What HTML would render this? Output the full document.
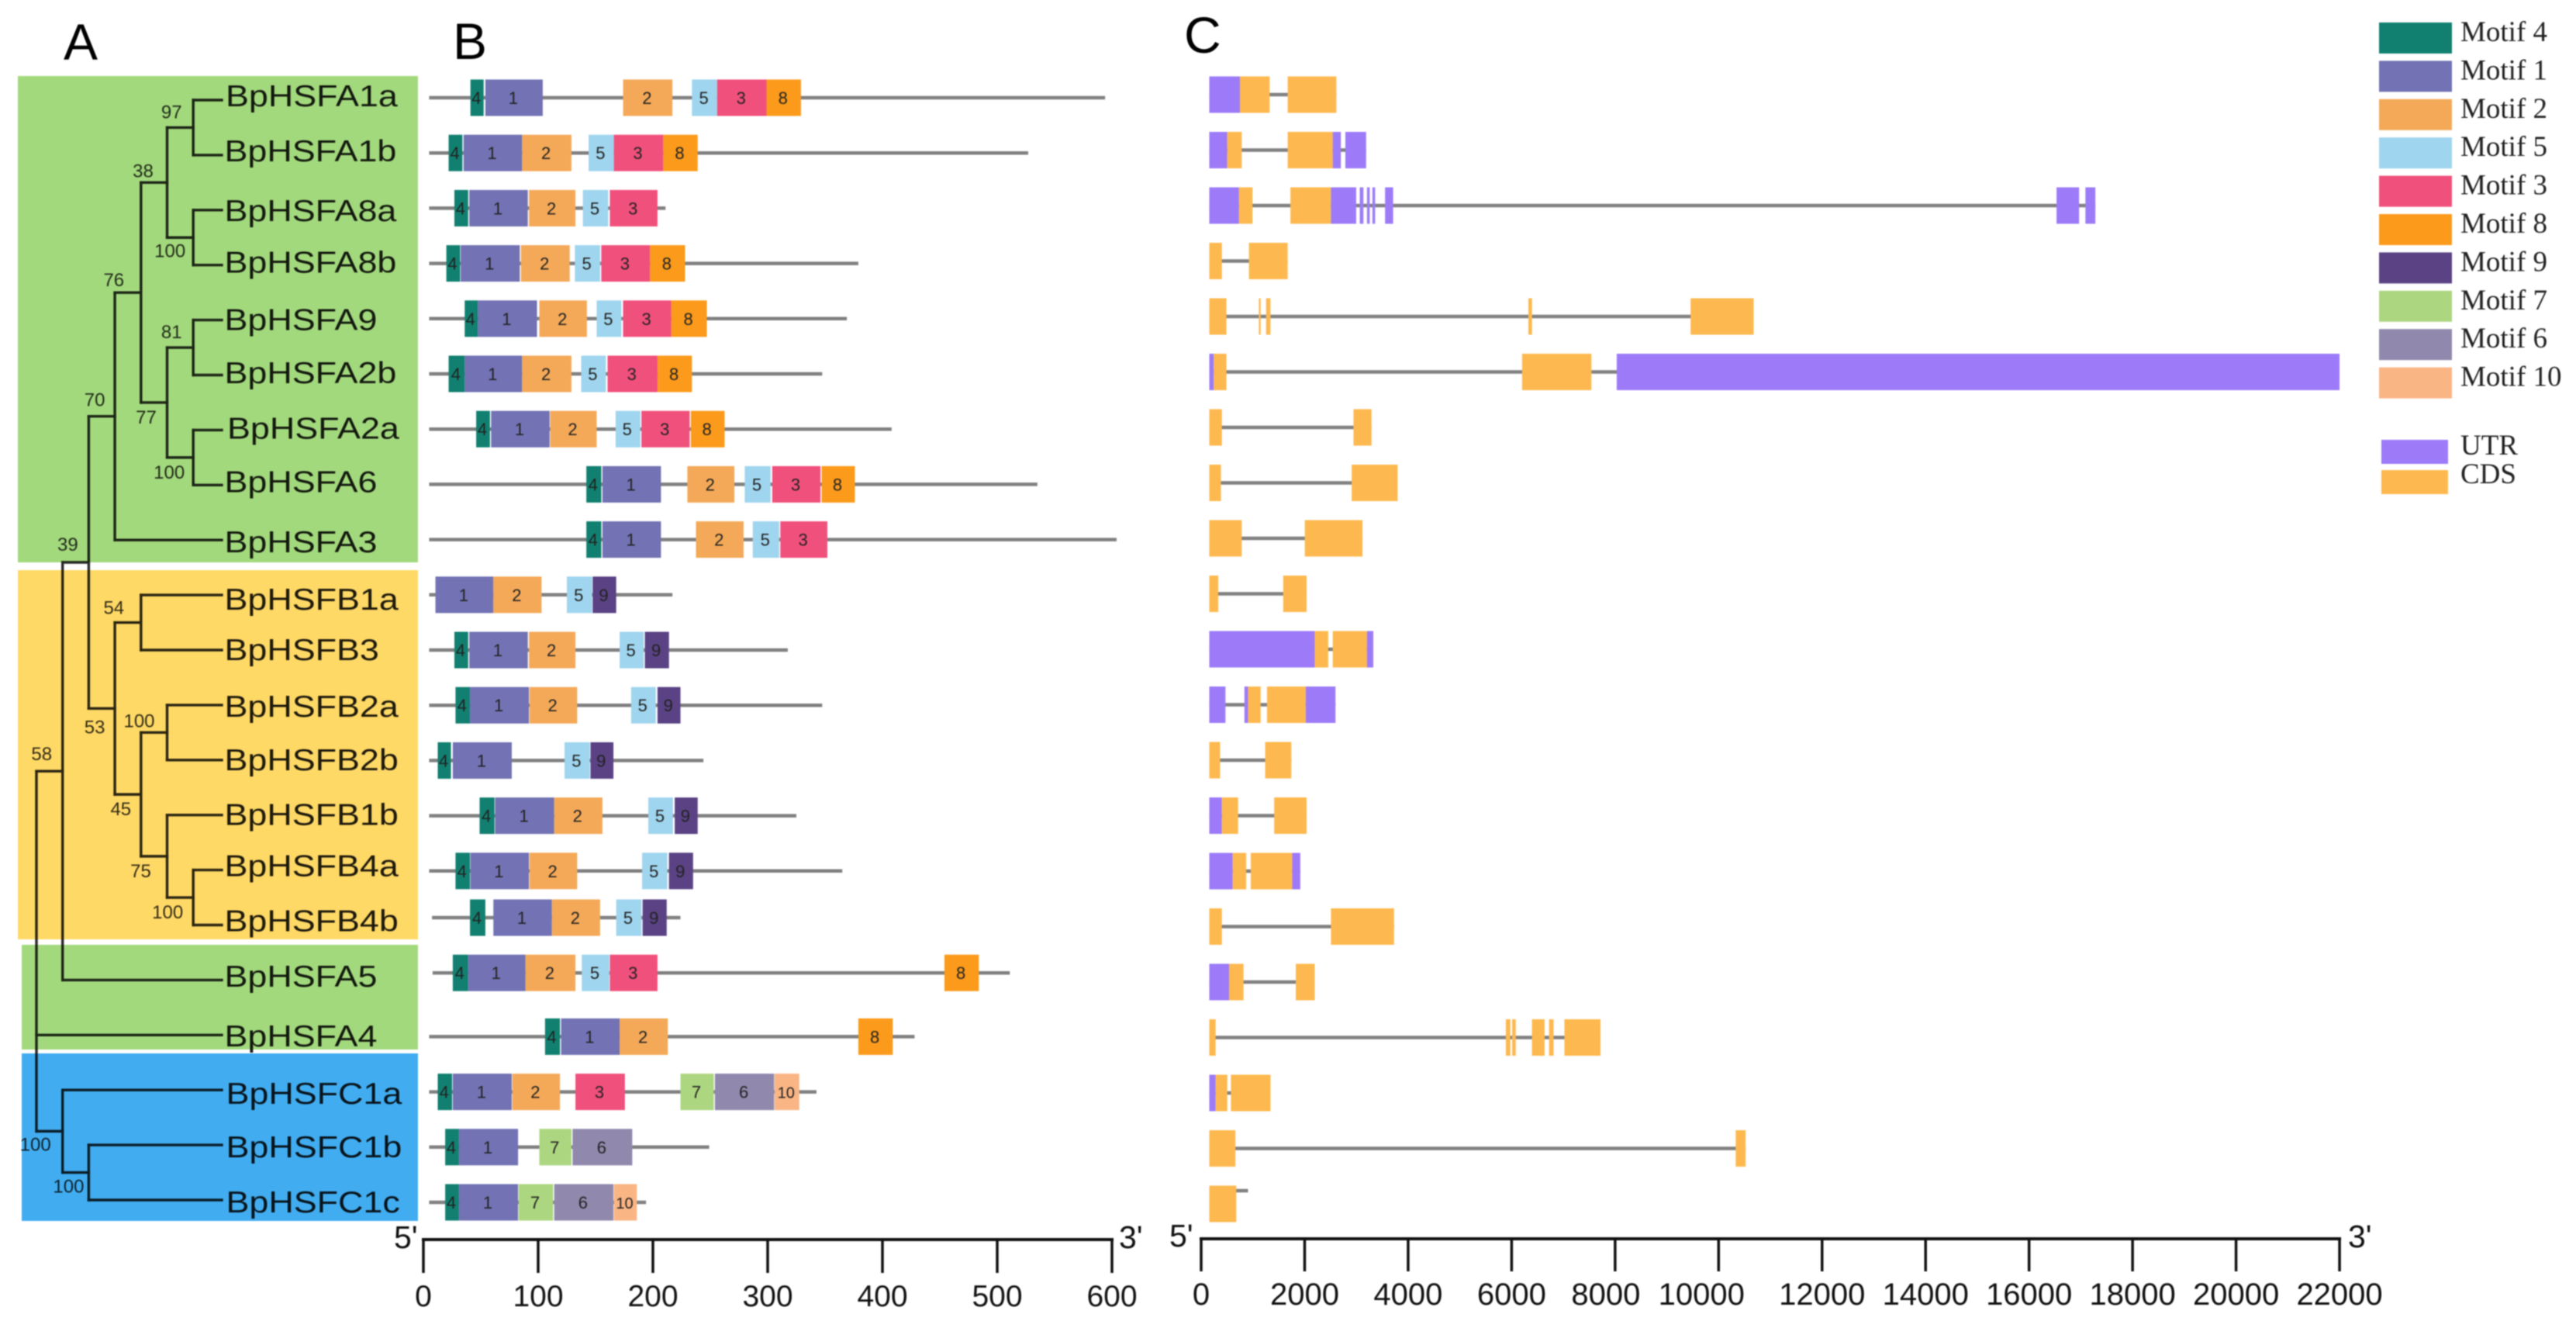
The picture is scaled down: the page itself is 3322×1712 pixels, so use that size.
<!DOCTYPE html>
<html lang="en">
<head>
<meta charset="utf-8">
<title>BpHSF phylogeny, motifs and gene structure</title>
<style>
html,body{margin:0;padding:0;background:#fff;}
svg{display:block;}
#figure{filter:blur(0.7px);}
.sans{font-family:"Liberation Sans",Arial,sans-serif;}
.serif{font-family:"Liberation Serif","Times New Roman",serif;}
</style>
</head>
<body>
<svg id="chart" xmlns="http://www.w3.org/2000/svg" width="3322" height="1712" viewBox="0 0 3322 1712">
  <rect x="0" y="0" width="3322" height="1712" fill="#ffffff"/>
  <g id="figure">
    <rect x="23" y="98" width="516" height="627" fill="#a3d97d"/>
    <rect x="23" y="735" width="516" height="476" fill="#ffd966"/>
    <rect x="28" y="1218" width="511" height="135" fill="#a3d97d"/>
    <rect x="28" y="1358" width="511" height="216" fill="#41adf0"/>
    <text x="82" y="77" font-size="66" class="sans" fill="#000">A</text>
    <text x="584" y="76" font-size="66" class="sans" fill="#000">B</text>
    <text x="1527" y="68" font-size="66" class="sans" fill="#000">C</text>
    <g id="tree" style="mix-blend-mode:multiply"></g>
    <g id="tipLabels" style="mix-blend-mode:multiply"></g>
    <g id="motifPanel"></g>
    <g id="genePanel"></g>
    <g id="axes"></g>
    <g id="legend"></g>
  </g>
</svg>
<script>
/* ---------- categories ---------- */
const genes = ['BpHSFA1a','BpHSFA1b','BpHSFA8a','BpHSFA8b','BpHSFA9','BpHSFA2b','BpHSFA2a','BpHSFA6','BpHSFA3','BpHSFB1a','BpHSFB3','BpHSFB2a','BpHSFB2b','BpHSFB1b','BpHSFB4a','BpHSFB4b','BpHSFA5','BpHSFA4','BpHSFC1a','BpHSFC1b','BpHSFC1c'];

/* ---------- tree: nested gene indexes ---------- */
const treeTopology = [[[[[[[0,1],[2,3]],[[4,5],[6,7]]],8],[[9,10],[[11,12],[13,[14,15]]]]],16],17,[18,[19,20]]];
/* bootstrap values, listed in post-order traversal of internal nodes (root has none) */
const supportValues = [97,100,38,81,100,77,76,70,54,100,100,75,45,53,39,58,100,100];

/* ---------- panel B: protein lengths (aa) and motifs [motif, from, to] ---------- */
const proteinSpans = [[5,594],[5,527],[5,211],[5,379],[5,369],[5,347.5],[5,408],[5,535],[5,604],[5,217],[5,317.5],[5,347.5],[5,244],[5,325],[5,365],[7.5,224],[8,511],[5,428],[5,342.5],[5,249],[5,194]];
const proteinMotifs = [
  [['4',41,52.5],['1',54,104],['2',174,217],['5',234,256],['3',256,299],['8',299,329]],
  [['4',22,34],['1',35,86],['2',86,129],['5',144,166],['3',166,209],['8',209,239]],
  [['4',27,39],['1',40,91],['2',92,132.5],['5',139,161],['3',162.5,204]],
  [['4',20,32],['1',32.5,84],['2',85,127.5],['5',132,154],['3',155,197.5],['8',197.5,228]],
  [['4',36,47.5],['1',47.5,99],['2',101,142.5],['5',151,172.5],['3',174,216],['8',216,247]],
  [['4',22,36],['1',36,86],['2',86,129],['5',137.5,159],['3',160.5,204],['8',204,234]],
  [['4',46,58],['1',59,110],['2',110.5,151],['5',167.5,189],['3',190,232],['8',233,262.5]],
  [['4',142,155],['1',156,207],['2',230,271],['5',280,302.5],['3',304,346],['8',347,376]],
  [['4',142,155],['1',156,207],['2',237.5,279],['5',287,310],['3',311,352]],
  [['1',10.5,61],['2',61,103],['5',125,147],['9',147.5,168]],
  [['4',27,39],['1',40,91],['2',92,132.5],['5',171,192],['9',193,214]],
  [['4',28,40.6],['1',40.6,92],['2',92.5,134],['5',181,202.5],['9',204,224]],
  [['4',12.5,24],['1',25.6,77],['5',123,145],['9',145.6,165.6]],
  [['4',49,62],['1',62.5,114],['2',114,156],['5',196,217.5],['9',219,239]],
  [['4',28,40.6],['1',41,92],['2',92.5,134],['5',190.6,212.5],['9',214,235]],
  [['4',40.6,54],['1',61,112],['2',112,154],['5',168,190],['9',191,212]],
  [['4',25.6,39],['1',39,89],['2',89,132.5],['5',138,162],['3',162.5,204],['8',454,484]],
  [['4',106,119],['1',120,171],['2',171,213],['8',379,409]],
  [['4',12.5,25],['1',25.6,77],['2',77.5,119],['3',132.5,175.6],['7',224,253],['6',254,305.6],['10',306,327.5]],
  [['4',19,31],['1',31,82.5],['7',101,129],['6',130,182]],
  [['4',19,31],['1',31,82.5],['7',83,113],['6',114,165.6],['10',166,186]]
];

/* ---------- panel C: gene lengths (bp) and exon segments [type, from, to] ---------- */
const geneSpans = [[157,2613],[157,3188],[157,17281],[157,1672],[157,10678],[157,22000],[157,3292],[157,3798],[157,3118],[157,2038],[157,3327],[157,2596],[157,1742],[157,2038],[157,1916],[157,3728],[157,2195],[157,7717],[157,1341],[157,10522],[157,906]];
const geneSegments = [
  [['UTR',157,749],['CDS',749,1324],['CDS',1672,2613]],
  [['UTR',157,505],['CDS',505,784],['CDS',1672,2543],['UTR',2543,2700],['UTR',2787,3188]],
  [['UTR',157,732],['CDS',732,993],['CDS',1725,2508],['UTR',2508,2996],['UTR',3066,3136],['UTR',3205,3258],['UTR',3310,3362],['UTR',3554,3710],['UTR',16531,16967],['UTR',17089,17281]],
  [['CDS',157,401],['CDS',923,1672]],
  [['CDS',157,488],['CDS',1115,1150],['CDS',1255,1340],['CDS',6324,6394],['CDS',9459,10678]],
  [['UTR',157,244],['CDS',244,488],['CDS',6202,7543],['UTR',8031,22000]],
  [['CDS',157,401],['CDS',2944,3292]],
  [['CDS',157,383],['CDS',2909,3798]],
  [['CDS',157,784],['CDS',2003,3118]],
  [['CDS',157,331],['CDS',1585,2038]],
  [['UTR',157,2195],['CDS',2195,2456],['CDS',2543,3205],['UTR',3205,3327]],
  [['UTR',157,470],['UTR',836,906],['CDS',906,1150],['CDS',1272,2021],['UTR',2021,2596]],
  [['CDS',157,366],['CDS',1237,1742]],
  [['UTR',157,401],['CDS',401,714],['CDS',1411,2038]],
  [['UTR',157,610],['CDS',610,871],['CDS',958,1759],['UTR',1759,1916]],
  [['CDS',157,401],['CDS',2508,3728]],
  [['UTR',157,540],['CDS',540,819],['CDS',1829,2195]],
  [['CDS',157,279],['CDS',5888,5975],['CDS',6010,6080],['CDS',6393,6637],['CDS',6724,6811],['CDS',7020,7717]],
  [['UTR',157,279],['CDS',279,505],['CDS',575,1341]],
  [['CDS',157,662],['CDS',10330,10522]],
  [['CDS',157,679]]
];

/* ---------- axis ticks ---------- */
const proteinTicks = [0,100,200,300,400,500,600];
const geneTicks = [0,2000,4000,6000,8000,10000,12000,14000,16000,18000,20000,22000];

/* ---------- legend entries ---------- */
const motifLegend = ['4','1','2','5','3','8','9','7','6','10'];
const structureLegend = ['UTR','CDS'];

/* ---------- styling and layout (not data) ---------- */
const motifColor = {'4':'#118070','1':'#7272b4','2':'#f4a958','5':'#9fd5ee','3':'#f0507c','8':'#fb9a1b','9':'#5a4284','7':'#acd67f','6':'#9089ad','10':'#fab584'};
const structureColor = {UTR:'#9d7bf8',CDS:'#fdb94f'};
const labelDrop = [8,8,14,10,13,10.5,11,9,16,19,13,15,13,13,8,8,8.7,14.6,18,16,16];
const labelNudgeX = [291,289.5,289.5,289.5,289.5,289.5,293,289.5,289.5,289.5,289.5,289.5,289.5,289.5,289.5,289.5,289.5,289.5,291.5,291.5,291.5];
const supportOffsets = [[-28,-12],[-30,25],[-31,-7],[-28,-12],[-31,27],[-27,27],[-35,-8],[-26,-13],[-35,-11],[-36,-7],[-33,27],[-34,27],[-26,27],[-26,32],[-27,-15],[-27,-14],[-26,26],[-35,25]];
const geneTickNudge = {8000:-12,10000:-22};

const SVGNS = 'http://www.w3.org/2000/svg';
function make(tag, parent, attrs, text){
  const node = document.createElementNS(SVGNS, tag);
  for (const k in attrs) node.setAttribute(k, attrs[k]);
  if (text !== undefined) node.textContent = text;
  parent.appendChild(node);
  return node;
}

/* axis functions */
const xAA = v => 546 + v * 1.48;
const xBP = v => 1549 + v * 0.06673;
const yTree = i => 129 + 70.9 * i;
const yProtein = i => 126 + 71.2 * i - ((i === 15 || i === 16) ? 11 : 0);
const yGene = i => 122 + 71.5 * i;
const xDepth = d => 47 + 33.7 * d;

/* ---------- tree ---------- */
const treeG = document.getElementById('tree');
const labelG = document.getElementById('tipLabels');
let supportCursor = 0;
function drawSegment(x1, y1, x2, y2, name){
  const seg = make('line', treeG, {x1:x1, y1:y1, x2:x2, y2:y2, stroke:'#2a2a2a', 'stroke-width':3.4, 'stroke-linecap':'square'});
  
  
}
function layout(node, depth){
  if (typeof node === 'number') return {y: yTree(node), tip: node};
  const kids = node.map(ch => layout(ch, depth + 1));
  const x = xDepth(depth);
  const y = (kids[0].y + kids[kids.length - 1].y) / 2;
  drawSegment(x, kids[0].y, x, kids[kids.length - 1].y, 'tree-vertical-branch');
  kids.forEach(k => {
    const endX = k.tip !== undefined ? 286 : xDepth(depth + 1);
    drawSegment(x, k.y, endX, k.y, k.tip !== undefined ? 'tree-tip-branch' : 'tree-internal-branch');
  });
  if (depth > 0) {
    const idx = supportCursor++;
    const off = supportOffsets[idx];
    const lab = make('text', treeG, {x:x + off[0], y:y + off[1], 'font-size':24, 'text-anchor':'middle', fill:'#333', class:'sans'}, supportValues[idx]);
    
    
  }
  return {y: y};
}
layout(treeTopology, 0);

genes.forEach((g, i) => {
  const t = make('text', labelG, {transform:'translate(' + labelNudgeX[i] + ',' + (yTree(i) + labelDrop[i]) + ') scale(1.15,1)', 'font-size':39, fill:'#1c1c1c', class:'sans'}, g);
  
  
});

/* ---------- panel B ---------- */
const motifG = document.getElementById('motifPanel');
genes.forEach((g, i) => {
  const y = yProtein(i);
  const line = make('line', motifG, {x1:xAA(proteinSpans[i][0]), x2:xAA(proteinSpans[i][1]), y1:y, y2:y, stroke:'#808080', 'stroke-width':4.5});
  
  
  proteinMotifs[i].forEach(m => {
    const x0 = xAA(m[1]), x1 = xAA(m[2]);
    const box = make('rect', motifG, {x:x0, y:y - 23.5, width:x1 - x0, height:47, fill:motifColor[m[0]]});
    
    
    const num = make('text', motifG, {x:(x0 + x1) / 2 - 1, y:y + 8, 'font-size':m[0] === '10' ? 20 : 22, 'text-anchor':'middle', fill:'#222', class:'sans'}, m[0]);
    
    
  });
});

/* ---------- panel C ---------- */
const geneG = document.getElementById('genePanel');
genes.forEach((g, i) => {
  const y = yGene(i);
  const lineY = (i === genes.length - 1) ? y - 17 : y;
  const line = make('line', geneG, {x1:xBP(geneSpans[i][0]), x2:xBP(geneSpans[i][1]), y1:lineY, y2:lineY, stroke:'#808080', 'stroke-width':4.5});
  
  
  geneSegments[i].forEach(s => {
    const x0 = xBP(s[1]), x1 = xBP(s[2]);
    const box = make('rect', geneG, {x:x0, y:y - 23.5, width:x1 - x0, height:47, fill:structureColor[s[0]]});
    
    
  });
});

/* ---------- axes ---------- */
const axesG = document.getElementById('axes');
function drawAxis(ticks, scale, axisY, tickEnd, labelY, fontSize, nudge, prefix){
  const base = make('line', axesG, {x1:scale(ticks[0]) - 2, x2:scale(ticks[ticks.length - 1]) + 2, y1:axisY, y2:axisY, stroke:'#111', 'stroke-width':4});
  
  
  ticks.forEach(v => {
    const tk = make('line', axesG, {x1:scale(v), x2:scale(v), y1:axisY, y2:tickEnd, stroke:'#111', 'stroke-width':3.5});
    
    
    const lb = make('text', axesG, {x:scale(v) + (nudge[v] || 0), y:labelY, 'font-size':fontSize, 'text-anchor':'middle', fill:'#111', class:'sans'}, v);
    
    
  });
}
drawAxis(proteinTicks, xAA, 1598, 1641, 1684, 39, {}, 'protein');
drawAxis(geneTicks, xBP, 1597, 1639, 1682, 40, geneTickNudge, 'gene');

function endLabel(txt, x, y, name){
  const t = make('text', axesG, {x:x, y:y, 'font-size':41, fill:'#111', class:'sans'}, txt);
  
  
}
endLabel("5'", 508, 1609, 'protein-axis-five-prime');
endLabel("3'", 1443, 1609, 'protein-axis-three-prime');
endLabel("5'", 1508, 1607, 'gene-axis-five-prime');
endLabel("3'", 3028, 1608, 'gene-axis-three-prime');

/* ---------- legend ---------- */
const legendG = document.getElementById('legend');
motifLegend.forEach((m, i) => {
  const top = 29 + 49.4 * i;
  const sw = make('rect', legendG, {x:3068, y:top, width:94, height:40, fill:motifColor[m]});
  
  
  const tx = make('text', legendG, {x:3173, y:53 + 49.4 * i, 'font-size':37, fill:'#222', class:'serif'}, 'Motif ' + m);
  
  
});
structureLegend.forEach((s, i) => {
  const sw = make('rect', legendG, {x:3071, y:567 + 39 * i, width:86, height:31, fill:structureColor[s]});
  
  
  const tx = make('text', legendG, {x:3173, y:586 + 37 * i, 'font-size':37, fill:'#222', class:'serif'}, s);
  
  
});
</script>
</body>
</html>
